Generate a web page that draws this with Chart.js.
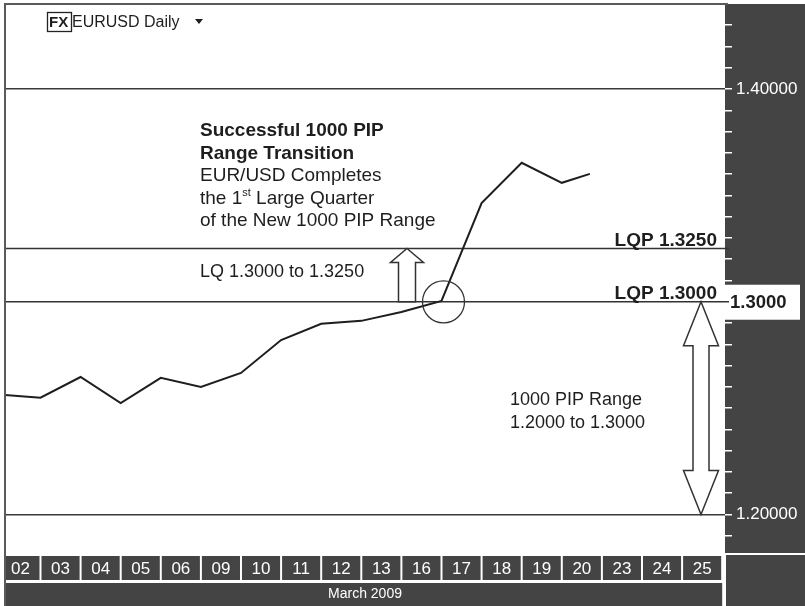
<!DOCTYPE html>
<html>
<head>
<meta charset="utf-8">
<title>EURUSD Daily</title>
<script src="https://cdn.jsdelivr.net/npm/chart.js@4.4.1/dist/chart.umd.min.js"></script>
<style>
  html, body { margin:0; padding:0; background:#fff; }
  canvas { display:block; }
</style>
</head>
<body>
<canvas id="chart" width="805" height="606"></canvas>
<script>
// values
const dates = ['02','03','04','05','06','09','10','11','12','13','16','17','18','19','20','23','24','25'];
const monthLabel = 'March 2009';
// day index = right edge of the date cell (0 = close before 02)
const closeDay  = [0, 1, 2, 3, 4, 5, 6, 7, 8, 9, 10, 11, 12, 13, 14, 14.7];
const closeRate = [1.2563, 1.2549, 1.2646, 1.2524, 1.2642, 1.2599, 1.2665, 1.2820,
                   1.2896, 1.2910, 1.2952, 1.3004, 1.3464, 1.3653, 1.3559, 1.3601];
const priceLabels = [1.2, 1.4];
const quarterLevels = [1.3, 1.325];
const rangeLow = 1.2, rangeHigh = 1.3;

const FONT = "'Liberation Sans', Arial, sans-serif";
const DARK = '#444444';
const INK = '#1e1e1e';

const isLabelled = v => priceLabels.some(p => Math.abs(p - v) < 1e-9);

function hollowArrow(ctx, x, yTop, yBot, headH, headW, shaftW, twoHeads) {
  ctx.beginPath();
  ctx.moveTo(x, yTop);
  ctx.lineTo(x + headW, yTop + headH);
  ctx.lineTo(x + shaftW, yTop + headH);
  if (twoHeads) {
    ctx.lineTo(x + shaftW, yBot - headH);
    ctx.lineTo(x + headW, yBot - headH);
    ctx.lineTo(x, yBot);
    ctx.lineTo(x - headW, yBot - headH);
    ctx.lineTo(x - shaftW, yBot - headH);
  } else {
    ctx.lineTo(x + shaftW, yBot);
    ctx.lineTo(x - shaftW, yBot);
  }
  ctx.lineTo(x - shaftW, yTop + headH);
  ctx.lineTo(x - headW, yTop + headH);
  ctx.closePath();
  ctx.fillStyle = '#fff';
  ctx.fill();
  ctx.strokeStyle = '#333';
  ctx.lineWidth = 1.5;
  ctx.stroke();
}

const decor = {
  id: 'decor',
  beforeDraw(chart) {
    const { ctx, chartArea: a, width, height } = chart;
    const xs = chart.scales.x;
    ctx.save();
    ctx.fillStyle = '#fff';
    ctx.fillRect(0, 0, width, height);
    ctx.fillStyle = DARK;
    // price panel and the corner box under it
    ctx.fillRect(a.right, 4, width - a.right, a.bottom - 5);
    ctx.fillRect(a.right + 1, a.bottom + 1, width - a.right - 1, height - a.bottom - 1);
    // date cells
    dates.forEach((d, i) => {
      const x0 = Math.max(xs.getPixelForValue(i) + 1, a.left + 1);
      const x1 = xs.getPixelForValue(i + 1) - 1;
      ctx.fillRect(x0, a.bottom + 2, x1 - x0, 24);
    });
    // month bar
    ctx.fillRect(a.left + 1, a.bottom + 29, xs.getPixelForValue(dates.length) - a.left - 1, height - a.bottom - 29);
    ctx.restore();
  },
  beforeDatasetsDraw(chart) {
    const { ctx, chartArea: a } = chart;
    const ys = chart.scales.y;
    ctx.save();
    ctx.strokeStyle = '#333';
    ctx.lineWidth = 1.5;
    quarterLevels.forEach(v => {
      const py = ys.getPixelForValue(v);
      ctx.beginPath();
      ctx.moveTo(a.left, py);
      ctx.lineTo(a.right + 4, py);
      ctx.stroke();
    });
    ctx.restore();
  },
  afterDatasetsDraw(chart) {
    const { ctx, chartArea: a, height } = chart;
    const ys = chart.scales.y;
    const y13 = ys.getPixelForValue(rangeHigh);
    const y1325 = ys.getPixelForValue(quarterLevels[1]);
    const y12 = ys.getPixelForValue(rangeLow);
    ctx.save();
    ctx.fillStyle = INK;
    ctx.textBaseline = 'middle';

    // headline block
    const tx = 200;
    ctx.font = 'bold 19px ' + FONT;
    ctx.fillText('Successful 1000 PIP', tx, 131);
    ctx.fillText('Range Transition', tx, 153.5);
    ctx.font = '19px ' + FONT;
    ctx.fillText('EUR/USD Completes', tx, 176);
    const w = ctx.measureText('the 1').width;
    ctx.fillText('the 1', tx, 198.5);
    ctx.font = '11px ' + FONT;
    ctx.fillText('st', tx + w, 193);
    const w2 = ctx.measureText('st').width;
    ctx.font = '19px ' + FONT;
    ctx.fillText(' Large Quarter', tx + w + w2, 198.5);
    ctx.fillText('of the New 1000 PIP Range', tx, 221);

    ctx.font = '18px ' + FONT;
    ctx.fillText('LQ 1.3000 to 1.3250', 200, (y13 + y1325) / 2 - 3);
    ctx.fillText('1000 PIP Range', 510, 400);
    ctx.fillText('1.2000 to 1.3000', 510, 423);

    // quarter level tags
    ctx.font = 'bold 19px ' + FONT;
    ctx.textAlign = 'right';
    ctx.textBaseline = 'alphabetic';
    ctx.fillText('LQP 1.3250', 717, y1325 - 3);
    ctx.fillText('LQP 1.3000', 717, y13 - 3);
    ctx.textAlign = 'left';

    // arrows
    hollowArrow(ctx, 407, y1325, y13, 14, 16.5, 8.5, false);
    hollowArrow(ctx, 701, y13, y12, 44, 17.5, 8, true);

    // circle round the breakout close
    const bi = closeRate.findIndex(v => v >= rangeHigh);
    const p = chart.getDatasetMeta(0).data[bi];
    ctx.beginPath();
    ctx.arc(p.x + 2, p.y + 1, 21, 0, Math.PI * 2);
    ctx.strokeStyle = '#333';
    ctx.lineWidth = 1.3;
    ctx.stroke();

    // 1.3000 price tag on the axis
    ctx.fillStyle = '#fff';
    ctx.fillRect(a.right, y13 - 17, 75, 35);
    ctx.strokeStyle = '#333';
    ctx.lineWidth = 1.5;
    ctx.beginPath();
    ctx.moveTo(a.right, y13);
    ctx.lineTo(a.right + 4, y13);
    ctx.stroke();
    ctx.fillStyle = INK;
    ctx.font = 'bold 18.5px ' + FONT;
    ctx.textBaseline = 'middle';
    ctx.fillText('1.3000', a.right + 5, y13 + 1);

    // header
    ctx.strokeStyle = '#222';
    ctx.lineWidth = 1.3;
    ctx.strokeRect(47.5, 12.5, 24, 19);
    ctx.font = 'bold 15px ' + FONT;
    ctx.fillText('FX', 49, 22.5);
    ctx.font = '16px ' + FONT;
    ctx.fillText('EURUSD Daily', 72, 22.5);
    ctx.beginPath();
    ctx.moveTo(195, 19);
    ctx.lineTo(203, 19);
    ctx.lineTo(199, 24);
    ctx.closePath();
    ctx.fill();

    // frame
    ctx.strokeStyle = '#5a5a5a';
    ctx.lineWidth = 2;
    ctx.beginPath();
    ctx.moveTo(a.right + 3, 4);
    ctx.lineTo(a.left, 4);
    ctx.lineTo(a.left, height);
    ctx.stroke();
    ctx.restore();
  }
};

new Chart(document.getElementById('chart'), {
  type: 'line',
  data: {
    datasets: [{
      data: closeDay.map((d, i) => ({ x: d, y: closeRate[i] })),
      borderColor: INK,
      borderWidth: 2,
      pointRadius: 0,
      tension: 0,
      fill: false
    }]
  },
  options: {
    responsive: false,
    animation: false,
    devicePixelRatio: 1,
    layout: { padding: { left: 5, top: 5, right: 0, bottom: 0 } },
    plugins: { legend: { display: false }, tooltip: { enabled: false } },
    scales: {
      x: {
        type: 'linear',
        position: 'bottom',
        min: 0.115,
        max: 18.07,
        afterBuildTicks: s => { s.ticks = dates.map((d, i) => ({ value: i + 0.5 })); },
        afterFit: s => { s.height = 52; s.paddingLeft = 0; s.paddingRight = 0; },
        grid: { display: false },
        border: { display: false },
        ticks: {
          autoSkip: false, maxRotation: 0, minRotation: 0,
          color: '#fff', padding: -3,
          font: { family: FONT, size: 17 },
          callback: (v, i) => dates[i]
        },
        title: {
          display: true, text: monthLabel, color: '#fff',
          font: { family: FONT, size: 14 },
          padding: { top: 0, bottom: 3 }
        }
      },
      y: {
        position: 'right',
        min: 1.1814,
        max: 1.4395,
        afterBuildTicks: s => {
          s.ticks = [];
          for (let c = 119; c <= 143; c++) s.ticks.push({ value: c / 100 });
        },
        afterFit: s => { s.width = 80; s.paddingTop = 0; s.paddingBottom = 0; },
        border: { display: false },
        grid: {
          color: c => (c.tick && isLabelled(c.tick.value)) ? '#3a3a3a' : 'rgba(0,0,0,0)',
          tickColor: '#fff',
          tickLength: 7,
          lineWidth: 1.5
        },
        ticks: {
          autoSkip: false,
          color: '#fff',
          padding: 4,
          font: { family: FONT, size: 17 },
          callback: v => isLabelled(v) ? v.toFixed(5) : ''
        }
      }
    }
  },
  plugins: [decor]
});
</script>
</body>
</html>
